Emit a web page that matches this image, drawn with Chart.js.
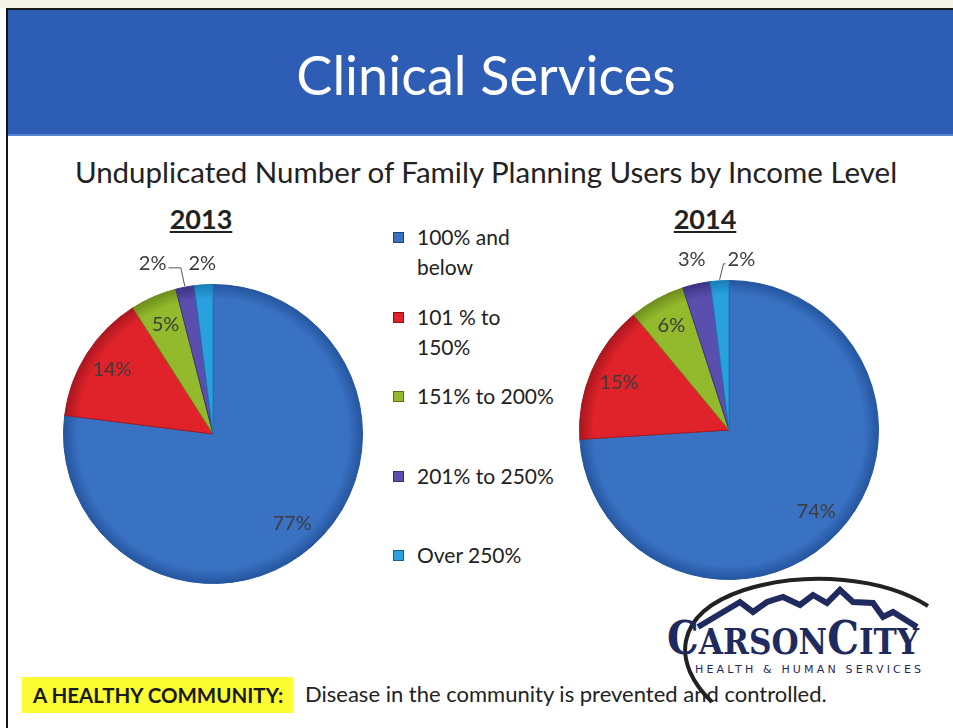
<!DOCTYPE html>
<html>
<head>
<meta charset="utf-8">
<title>Clinical Services</title>
<script src="https://cdn.jsdelivr.net/npm/chart.js@4.4.0/dist/chart.umd.min.js"></script>
<style>
  html, body { margin: 0; padding: 0; background: #fff; }
  body { width: 953px; height: 728px; position: relative; overflow: hidden; font-family: Lato, "Open Sans", sans-serif; }
  #topstrip { position: absolute; left: 0; top: 0; width: 953px; height: 8px; background: #f6f3ea; }
  #band { position: absolute; left: 6px; top: 8px; width: 947px; height: 128px; background: #2d5db4;
          border-top: 2px solid #1a1a1a; border-bottom: 2px solid #5686d2; box-sizing: border-box; }
  #leftline { position: absolute; left: 6px; top: 8px; width: 2px; height: 720px; background: #151515; }
  #title { position: absolute; left: 486px; top: 40px; transform: translateX(-50%); color: #fff; font-size: 54px; line-height: 70px; white-space: nowrap; }
  #subtitle { position: absolute; left: 486px; top: 153px; transform: translateX(-50%); color: #222; font-size: 29.5px; line-height: 38px; white-space: nowrap; }
  .year { position: absolute; top: 202px; transform: translateX(-50%); font-size: 27px; font-weight: bold; text-decoration: underline; color: #222; }
  .pie { position: absolute; z-index: 2; }
  #legend { position: absolute; left: 393px; top: 222px; z-index: 3; }
  .item { height: 79.5px; display: flex; align-items: flex-start; }
  .item .box { width: 11px; height: 11px; margin-top: 10px; margin-right: 13px; border: 1px solid rgba(0,0,0,0.4); box-sizing: border-box; flex: none; }
  .item .txt { width: 140px; font-size: 21px; line-height: 30px; color: #222; }
  #logo { position: absolute; left: 0; top: 0; z-index: 1; }
  #motto { position: absolute; left: 22px; top: 677px; height: 36px; width: 271px; background: #fcfc33; z-index: 3;
           font-weight: bold; font-size: 20.5px; line-height: 36px; color: #1a1a1a; box-sizing: border-box; padding-left: 11px; white-space: nowrap; }
  #mottotext { position: absolute; left: 305px; top: 679px; font-size: 22px; line-height: 30px; color: #222; z-index: 3; white-space: nowrap; }
</style>
</head>
<body>
<div id="topstrip"></div>
<div id="band"></div>
<div id="leftline"></div>
<div id="title">Clinical Services</div>
<div id="subtitle">Unduplicated Number of Family Planning Users by Income Level</div>
<div class="year" id="year0" style="left:201px"></div>
<div class="year" id="year1" style="left:705px"></div>

<svg id="logo" width="953" height="728">
  <path d="M 712 702 C 672 664, 672 614, 744 590 C 808 570, 884 578, 928 606" fill="none" stroke="#222" stroke-width="4"/>
  <polyline points="698,627 740,602 753,612 767,602 783,597 800,605 813,595 827,603 840,590 853,602 873,603 883,617 893,612 917,627"
            fill="none" stroke="#1f2a5e" stroke-width="6" stroke-linejoin="miter"/>
  <text x="667" y="654" font-family="'DejaVu Serif', serif" font-weight="bold" fill="#1f2a5e" textLength="252" lengthAdjust="spacingAndGlyphs"><tspan font-size="46">C</tspan><tspan font-size="36">ARSON</tspan><tspan font-size="46">C</tspan><tspan font-size="36">ITY</tspan></text>
  <text x="695" y="673" font-family="'DejaVu Sans', sans-serif" font-size="11" fill="#1f2a5e" textLength="226" lengthAdjust="spacing">HEALTH &amp; HUMAN SERVICES</text>
</svg>

<canvas class="pie" id="pie2013" width="340" height="400" style="left:43px;top:234px"></canvas>
<canvas class="pie" id="pie2014" width="340" height="400" style="left:559px;top:230px"></canvas>
<div id="legend"></div>

<div id="motto">A HEALTHY COMMUNITY:</div>
<div id="mottotext">Disease in the community is prevented and controlled.</div>

<script>
  // datos (% de usuarios)
  const years = ["2013", "2014"];
  const categories = ["100% and below", "101 % to 150%", "151% to 200%", "201% to 250%", "Over 250%"];
  const users2013 = [77, 14, 5, 2, 2];
  const users2014 = [74, 15, 6, 3, 2];

  const colors = ["#3a72c3", "#e0232b", "#93b92c", "#5a4fae", "#2aa0df"];
  const edgeColors = ["#24559e", "#a8161d", "#6d8c1c", "#3b3282", "#1a7db5"];

  // sombreado radial para imitar el estilo de Excel
  function shaded(c) {
    const i = c.dataIndex;
    const area = c.chart.chartArea;
    if (!area) return colors[i];
    const cx = (area.left + area.right) / 2;
    const cy = (area.top + area.bottom) / 2;
    const r = Math.min(area.width, area.height) / 2;
    const g = c.chart.ctx.createRadialGradient(cx, cy, 0, cx, cy, r);
    g.addColorStop(0, colors[i]);
    g.addColorStop(0.9, colors[i]);
    g.addColorStop(1, edgeColors[i]);
    return g;
  }

  // etiquetas de porcentaje (dentro o fuera con línea guía)
  const pctLabels = {
    id: "pctLabels",
    afterDatasetsDraw(chart, args, opts) {
      const ctx = chart.ctx;
      const meta = chart.getDatasetMeta(0);
      const values = chart.data.datasets[0].data;
      ctx.save();
      ctx.font = "20px Lato";
      ctx.fillStyle = "#3c3c3c";
      ctx.textAlign = "center";
      ctx.textBaseline = "middle";
      const outside = [];
      meta.data.forEach((arc, i) => {
        const p = arc.getProps(["x", "y", "startAngle", "endAngle", "outerRadius"], true);
        const mid = (p.startAngle + p.endAngle) / 2;
        const text = values[i] + "%";
        if (values[i] >= opts.minInside) {
          const r = p.outerRadius * 0.8;
          ctx.fillText(text, p.x + Math.cos(mid) * r, p.y + Math.sin(mid) * r);
        } else {
          const r = p.outerRadius + 21;
          outside.push({
            text, mid, p,
            x: p.x + Math.cos(mid) * r,
            y: p.y + Math.sin(mid) * r,
            w: ctx.measureText(text).width,
            moved: false,
          });
        }
      });
      if (outside.length) {
        const top = Math.min(...outside.map((o) => o.y));
        outside.forEach((o) => (o.y = top));
      }
      for (let i = 1; i < outside.length; i++) {
        const a = outside[i - 1], b = outside[i];
        const need = (a.w + b.w) / 2 + opts.gap;
        if (b.x - a.x < need) {
          if (opts.spread === "left") { a.x = b.x - need; a.moved = true; }
          else { b.x = a.x + need; b.moved = true; }
        }
      }
      outside.forEach((o) => {
        ctx.fillText(o.text, o.x, o.y);
        if (o.moved) {
          const ex = o.p.x + Math.cos(o.mid) * (o.p.outerRadius + 1);
          const ey = o.p.y + Math.sin(o.mid) * (o.p.outerRadius + 1);
          const side = o.x < ex ? 1 : -1;
          const lx = o.x + side * (o.w / 2 + 2);
          ctx.beginPath();
          ctx.strokeStyle = "#555";
          ctx.lineWidth = 1;
          ctx.moveTo(ex, ey);
          ctx.lineTo(ex - side * 4, o.y + 4);
          ctx.lineTo(lx, o.y + 4);
          ctx.stroke();
        }
      });
      ctx.restore();
    },
  };

  function makePie(id, values, spread) {
    const ctx = document.getElementById(id).getContext("2d");
    new Chart(ctx, {
      type: "pie",
      data: {
        labels: categories,
        datasets: [
          {
            data: values,
            backgroundColor: shaded,
            borderColor: edgeColors,
            borderWidth: 1,
          },
        ],
      },
      options: {
        responsive: false,
        animation: false,
        layout: { padding: { left: 20, right: 20, top: 50, bottom: 50 } },
        plugins: {
          legend: { display: false },
          tooltip: { enabled: false },
          pctLabels: { minInside: 4, gap: 22, spread },
        },
      },
      plugins: [pctLabels],
    });
  }

  document.getElementById("year0").textContent = years[0];
  document.getElementById("year1").textContent = years[1];

  makePie("pie2013", users2013, "left");
  makePie("pie2014", users2014, "right");

  // leyenda común entre los dos gráficos
  const legendEl = document.getElementById("legend");
  categories.forEach((cat, i) => {
    const item = document.createElement("div");
    item.className = "item";
    item.innerHTML =
      '<span class="box" style="background:' + colors[i] + '"></span><span class="txt">' + cat + "</span>";
    legendEl.appendChild(item);
  });
</script>
</body>
</html>
